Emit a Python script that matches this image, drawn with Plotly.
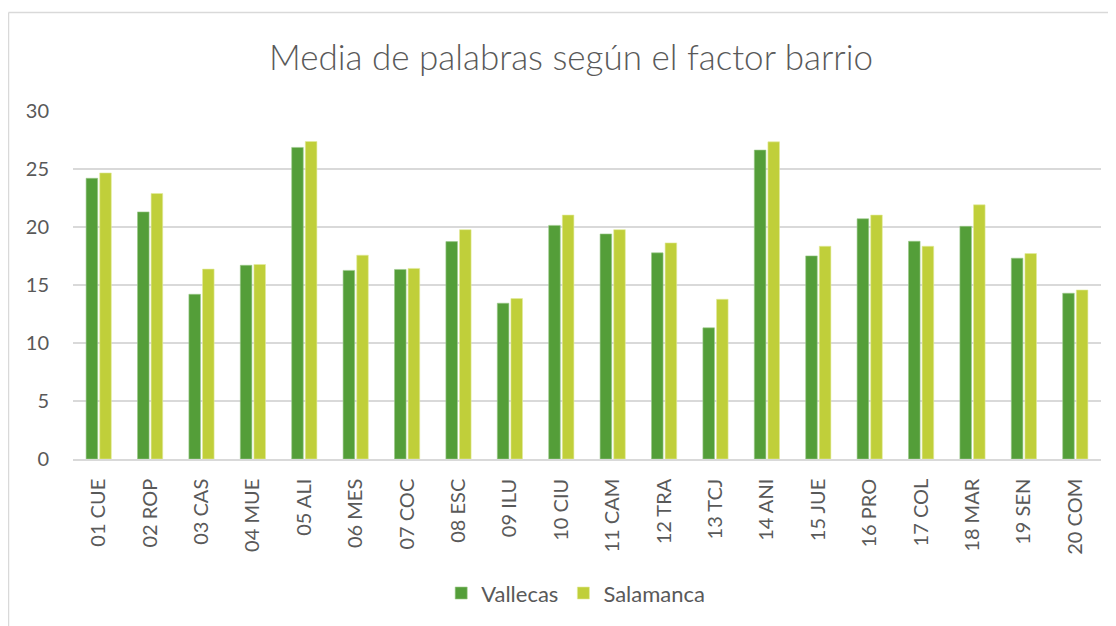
import plotly.graph_objects as go

categories = ["01 CUE", "02 ROP", "03 CAS", "04 MUE", "05 ALI", "06 MES", "07 COC",
              "08 ESC", "09 ILU", "10 CIU", "11 CAM", "12 TRA", "13 TCJ", "14 ANI",
              "15 JUE", "16 PRO", "17 COL", "18 MAR", "19 SEN", "20 COM"]
vallecas = [24.2, 21.3, 14.2, 16.7, 26.86, 16.26, 16.34, 18.74, 13.43, 20.14,
            19.4, 17.77, 11.31, 26.63, 17.51, 20.71, 18.77, 20.06, 17.31, 14.29]
salamanca = [24.66, 22.89, 16.37, 16.77, 27.37, 17.57, 16.43, 19.77, 13.83, 21.03,
             19.77, 18.63, 13.77, 27.34, 18.34, 21.03, 18.34, 21.91, 17.71, 14.57]
y_ticks = [0, 5, 10, 15, 20, 25, 30]

FONT = "Lato"
TXT = "#595959"
GRID = "#D9D9D9"

# page has an 8px body margin: figure is sized/offset to compensate
W, H = 1108, 618
L, R, T, B = 65, 15, 103, 165
PW = W - L - R
PH = H - T - B

fig = go.Figure()
fig.add_trace(go.Bar(name="Vallecas", x=categories, y=vallecas,
                     marker=dict(color="#549E39", line=dict(color="#9CC98A", width=0.6))))
fig.add_trace(go.Bar(name="Salamanca", x=categories, y=salamanca,
                     marker=dict(color="#C0CF3A", line=dict(color="#E2EB9C", width=0.6))))

fig.update_layout(
    width=W, height=H,
    margin=dict(l=L, r=R, t=T, b=B),
    paper_bgcolor="white", plot_bgcolor="white",
    barmode="group", bargap=0.47, bargroupgap=0.15,
    font=dict(family=FONT, color=TXT, size=20),
    title=dict(text="Media de palabras según el factor barrio",
               x=563 / W, xanchor="center", xref="container",
               y=1 - 50 / H, yanchor="middle", yref="container",
               font=dict(family=FONT, size=35, color=TXT, weight=300)),
    legend=dict(orientation="h", x=0.489, xanchor="center", y=-(588 - (T + PH)) / PH,
                yanchor="middle", font=dict(family=FONT, size=22, color=TXT),
                itemwidth=30, tracegroupgap=0),
    xaxis=dict(tickangle=-90, showgrid=False, showline=True, linecolor=GRID, linewidth=1.5,
               ticks="", ticklabelstandoff=10, tickfont=dict(size=20, color=TXT),
               fixedrange=True),
    yaxis=dict(range=[0, 30], tickvals=y_ticks, showgrid=True, gridcolor=GRID, gridwidth=1.5,
               zeroline=False, ticks="", ticklabelstandoff=23,
               tickfont=dict(size=20, color=TXT), fixedrange=True),
    showlegend=True,
)

# chart frame (left and top edges visible)
fx = (0.5 - L) / PW
fy = (T + PH - 4) / PH
fig.add_shape(type="line", xref="paper", yref="paper",
              x0=fx, x1=fx, y0=fy, y1=-2,
              line=dict(color=GRID, width=1.5))
fig.add_shape(type="line", xref="paper", yref="paper",
              x0=fx, x1=2, y0=fy, y1=fy,
              line=dict(color=GRID, width=1.5))

fig.write_html("out.html")
